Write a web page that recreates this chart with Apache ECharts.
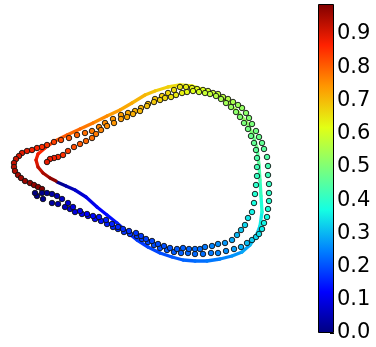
<!DOCTYPE html>
<html>
<head>
<meta charset="utf-8">
<script src="https://cdn.jsdelivr.net/npm/echarts@6/dist/echarts.min.js"></script>
<style>
  html, body { margin: 0; background: #fff; }
  #chart { width: 376px; height: 347px; }
</style>
</head>
<body>
<div id="chart"></div>
<script>
// [x, y, t] — the smooth loop, coloured by t
const curve = [
  [57,182,0.0],[66,186,0.03],[75,190,0.06],[86,197,0.09],[97,207,0.115],[107,215,0.13],
  [117,223,0.145],[127,232,0.16],[137,240,0.175],[148,247,0.185],[160,253,0.195],[172,257,0.205],
  [183,260,0.215],[195,261,0.225],[207,261,0.235],[220,259,0.245],[232,256,0.26],[242,252,0.275],
  [250,245,0.295],[256,236,0.315],[260,226,0.34],[262,212,0.37],[261,196,0.40],[260,180,0.425],
  [259,165,0.445],[257,148,0.47],[253,135,0.49],[247,123,0.515],[238,112,0.54],[228,103,0.565],
  [218,96,0.59],[205,90,0.615],[192,86,0.635],[180,85,0.655],[168,87,0.67],[155,91,0.685],
  [145,95,0.70],[132,103,0.715],[120,110,0.73],[107,116,0.745],[93,123,0.765],[80,129,0.785],
  [67,135,0.80],[55,141,0.82],[45,148,0.85],[38,154,0.87],[36,160,0.89],[38,167,0.915],
  [43,173,0.94],[50,178,0.965],[56,181,0.99]
];

// [x, y, t] — outer ring of samples
const outerDots = [
  [37,196,0.00],[43,199,0.015],[52,203,0.03],[58,204,0.045],[65,207,0.06],[70,209,0.075],
  [75,212,0.09],[82,214,0.105],[88,216,0.12],[95,219,0.13],[101,221,0.14],[107,224,0.15],
  [113,227,0.16],[118,229,0.165],[124,232,0.17],[130,234,0.175],[137,236,0.18],[142,239,0.185],
  [148,242,0.19],[154,245,0.195],[160,248,0.20],[167,250,0.205],[174,252,0.21],[181,253,0.215],
  [188,253,0.22],[195,254,0.225],[203,254,0.23],[211,253,0.24],[218,253,0.25],[226,251,0.26],
  [234,249,0.275],[241,247,0.29],[247,243,0.305],[252,240,0.32],[256,237,0.33],[259,234,0.34],
  [262,229,0.35],[264,223,0.36],[267,217,0.37],[268,209,0.38],[269,201,0.39],[269,193,0.40],
  [269,184,0.41],[268,175,0.42],[268,166,0.43],[267,157,0.445],[264,149,0.455],[262,143,0.465],
  [259,137,0.475],[256,131,0.485],[252,124,0.495],[249,118,0.505],[246,113,0.515],[242,108,0.525],
  [238,105,0.535],[233,102,0.55],[228,99,0.56],[223,97,0.57],[218,94,0.58],[213,93,0.59],
  [208,91,0.60],[203,90,0.61],[197,89,0.62],[192,88,0.63],[186,87,0.64],[180,87,0.65],
  [174,90,0.66],[168,93,0.67],[162,96,0.68],[155,99,0.69],[148,104,0.70],[141,108,0.71],
  [135,111,0.715],[128,113,0.725],[121,115,0.735],[113,119,0.745],[105,123,0.755],[99,127,0.765],
  [92,131,0.775],[85,133,0.785],[77,135,0.80],[69,138,0.81],[61,140,0.825],[54,142,0.835],
  [47,145,0.845],[42,147,0.855],[37,148,0.865],[32,150,0.875],[27,151,0.885],[22,153,0.895],
  [19,156,0.905],[16,159,0.915],[14,163,0.925],[14,167,0.935],[15,171,0.945],[18,175,0.955],
  [21,178,0.96],[25,181,0.965],[30,183,0.97],[34,185,0.975],[38,187,0.98],[42,189,0.99]
];

// [x, y, t] — inner ring of samples
const innerDots = [
  [35,193,0.0],[42,193,0.01],[47,193,0.02],[52,194,0.035],[57,196,0.05],[62,199,0.065],
  [68,203,0.08],[73,207,0.095],[80,211,0.11],[87,214,0.12],[93,216,0.13],[99,217,0.14],
  [106,220,0.15],[112,224,0.155],[118,227,0.16],[123,229,0.165],[129,231,0.17],[136,233,0.175],
  [141,236,0.18],[146,239,0.185],[152,241,0.19],[158,244,0.195],[164,246,0.20],[170,248,0.205],
  [177,249,0.21],[183,248,0.215],[189,249,0.22],[195,249,0.225],[200,249,0.23],[205,247,0.24],
  [212,246,0.25],[218,244,0.26],[225,243,0.27],[232,240,0.285],[237,235,0.30],[241,230,0.315],
  [245,225,0.33],[248,218,0.345],[252,212,0.36],[254,203,0.375],[255,194,0.39],[256,185,0.40],
  [257,176,0.41],[257,167,0.425],[257,158,0.44],[256,150,0.455],[254,143,0.465],[251,136,0.475],
  [248,129,0.485],[244,123,0.495],[240,117,0.505],[236,112,0.515],[231,107,0.53],[226,103,0.54],
  [221,99,0.55],[216,96,0.565],[210,94,0.575],[205,93,0.585],[199,92,0.60],[193,91,0.615],
  [187,92,0.625],[182,93,0.635],[176,95,0.645],[171,97,0.655],[165,98,0.665],[160,100,0.675],
  [154,102,0.685],[147,106,0.695],[140,111,0.705],[133,114,0.715],[127,117,0.725],[121,119,0.735],
  [114,123,0.745],[107,126,0.755],[101,130,0.765],[96,134,0.775],[92,138,0.785],[86,141,0.795],
  [80,144,0.81],[74,147,0.82],[68,151,0.835],[63,155,0.85],[58,157,0.86],[54,158,0.87],
  [50,159,0.88],[47,162,0.89]
];

const tMin = 0;
const tMax = 0.99;
// jet colormap sampled at 0, 1/8, ... 1
const jet = ['#000080', '#0000ff', '#0080ff', '#15ffe2', '#7bff7b', '#e2ff15', '#ff9700', '#ff2100', '#800000'];

// segment table for the custom series: [x1, y1, t, x2, y2]
const segments = curve.slice(1).map((p, i) => {
  const a = curve[i];
  return [a[0], a[1], (a[2] + p[2]) / 2, p[0], p[1]];
});

const chart = echarts.init(document.getElementById('chart'));
chart.setOption({
  animation: false,
  backgroundColor: '#fff',
  grid: [
    { left: 0, top: 0, width: 376, height: 347 },
    { left: 318, top: 4, width: 16, height: 329 }
  ],
  xAxis: [
    { gridIndex: 0, type: 'value', min: 0, max: 376, show: false },
    { gridIndex: 1, type: 'category', data: ['c'], show: false }
  ],
  yAxis: [
    { gridIndex: 0, type: 'value', min: 0, max: 347, inverse: true, show: false },
    {
      gridIndex: 1, type: 'value', min: tMin, max: tMax, interval: 0.1, position: 'right',
      axisLine: { show: false },
      axisTick: { show: true, inside: true, length: 4, lineStyle: { color: '#000', width: 1 } },
      splitLine: { show: false },
      axisLabel: {
        showMaxLabel: false, margin: 3, color: '#000', fontSize: 21, fontFamily: 'DejaVu Sans',
        formatter: (v) => v.toFixed(1)
      }
    }
  ],
  visualMap: {
    show: false, type: 'continuous', min: tMin, max: tMax, dimension: 2,
    seriesIndex: [0, 1, 2], inRange: { color: jet }
  },
  series: [
    {
      type: 'custom', xAxisIndex: 0, yAxisIndex: 0, data: segments,
      renderItem: (params, api) => {
        const p1 = api.coord([api.value(0), api.value(1)]);
        const p2 = api.coord([api.value(3), api.value(4)]);
        return {
          type: 'line',
          shape: { x1: p1[0], y1: p1[1], x2: p2[0], y2: p2[1] },
          style: { stroke: api.visual('color'), lineWidth: 3.3, lineCap: 'round' }
        };
      },
      z: 1
    },
    {
      type: 'scatter', xAxisIndex: 0, yAxisIndex: 0, data: outerDots, symbolSize: 5.5,
      itemStyle: { borderColor: '#111', borderWidth: 0.9, opacity: 1 }, z: 2
    },
    {
      type: 'scatter', xAxisIndex: 0, yAxisIndex: 0, data: innerDots, symbolSize: 5.5,
      itemStyle: { borderColor: '#111', borderWidth: 0.9, opacity: 1 }, z: 2
    },
    {
      type: 'bar', xAxisIndex: 1, yAxisIndex: 1, data: [tMax], barWidth: '100%',
      itemStyle: {
        borderColor: '#000', borderWidth: 1,
        color: new echarts.graphic.LinearGradient(0, 1, 0, 0,
          jet.map((c, i) => ({ offset: i / (jet.length - 1), color: c })))
      },
      z: 1
    }
  ]
});
</script>
</body>
</html>
